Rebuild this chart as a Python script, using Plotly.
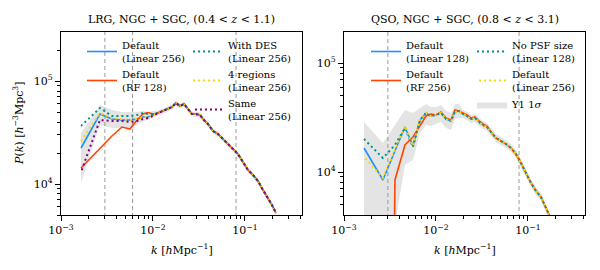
import plotly.graph_objects as go

# ---------------- data: LRG panel ----------------
k_lrg = [0.00165, 0.00265, 0.00358, 0.0046, 0.00562, 0.0067, 0.00779, 0.00882, 0.0100,
         0.01133, 0.01285, 0.01456, 0.01609, 0.01778, 0.01966, 0.02173, 0.02402, 0.02654,
         0.02934, 0.03243, 0.03583, 0.03961, 0.04489, 0.05087, 0.05765, 0.06533, 0.07405,
         0.08392, 0.09512, 0.1078, 0.1222, 0.1385, 0.157, 0.1778, 0.1966, 0.2173]

_lrg_tail = [48900, 51110, 53470, 55920, 61150, 57200, 59800, 53470, 47810, 47810, 46760,
             41810, 38240, 32700, 30580, 27350, 24450, 21870, 19550, 16350, 13680, 12230,
             10690, 8740, 7310, 6250, 5230]

lrg_lin256 = [22360, 47810, 42760, 41810, 41810, 42760, 44710, 44710, 46760] + _lrg_tail
lrg_rf128 = [14300, 22360, 29240, 35760, 34200, 41810, 47810, 49450, 47810] + _lrg_tail
lrg_des = [36570, 54680, 45720, 45720, 45720, 46760, 48900, 47810, 47810] + _lrg_tail
lrg_4reg = [26150, 48900, 43720, 42760, 41810, 42760, 44710, 44710, 46760] + _lrg_tail
lrg_same = [13080, 41810, 40890, 40890, 39990, 40890, 42760, 43720, 45720] + _lrg_tail

lrg_band_hi = [31270, 58480, 52270, 50000, 50000, 50000, 51110, 50000, 51110,
               51830, 54180, 56680, 59280, 64820, 60630, 63390, 56680, 50680, 50680, 49570,
               44320, 40530, 34660, 32410, 28990, 25920, 23180, 20720, 17330, 14500, 12960,
               11330, 9260, 7750, 6630, 5540]
lrg_band_lo = [10220, 37390, 34970, 34970, 34970, 37390, 40890, 41810, 43720,
               46130, 48220, 50440, 52750, 57690, 53960, 56420, 50440, 45100, 45100, 44110,
               39440, 36080, 30850, 28850, 25800, 23070, 20630, 18440, 15420, 12910, 11540,
               10080, 8250, 6900, 5900, 4930]
lrg_vlines = [0.003, 0.006, 0.08]

# ---------------- data: QSO panel ----------------
k_qso = k_lrg[:34]

_qso_tail = [23280, 20500, 19240, 18060, 16610, 14630, 12090, 9790, 7930, 6690, 5900,
             4675, 3705]

qso_lin128 = [16610, 8450, 15580, 25870, 17320, 29990, 34770, 32640, 33330, 34770, 30630,
              29370, 35520, 36280, 34050, 32640, 30630, 31290, 28750, 26990, 25870] + _qso_tail
qso_rf256 = [1e-6, 1e-6, 8450, 17690, 20950, 26420, 32640, 34050, 33330, 35520, 31290,
             29990, 37050, 36280, 34770, 33330, 31290, 31960, 29370, 27560, 26420] + _qso_tail
qso_nopsf = [20080, 13440, 17690, 25330, 16960, 29990, 34770, 32640, 33330, 34770, 30630,
             29370, 35520, 36280, 34050, 32640, 30630, 31290, 28750, 26990, 25870] + _qso_tail
qso_lin256 = [13730, 8810, 15910, 26420, 17320, 30630, 34770, 32640, 33330, 34770, 30630,
              29370, 35520, 36280, 34050, 32640, 30630, 31290, 28750, 26990, 25870] + _qso_tail

qso_band_hi = [28750, 18450, 26990, 37050, 34770, 38650, 42060, 39480, 39480, 41180, 36280,
               34770, 42060, 42060, 37050, 35510, 33330, 34040, 31280, 29370, 28150, 25330,
               22300, 20930, 19650, 18070, 15920, 13150, 10650, 8630, 7280, 6420, 5090, 4030]
qso_band_lo = [2000, 2000, 3265, 11590, 12890, 22800, 26990, 26420, 27560, 28750, 25330,
               24280, 30630, 31290, 31300, 30000, 28150, 28760, 26420, 24810, 23780, 21400,
               18840, 17680, 16600, 15270, 13450, 11110, 9000, 7290, 6150, 5420, 4300, 3405]
qso_vlines = [0.003, 0.08]

x_ticks = [1e-3, 1e-2, 1e-1]
x_ticktext = ["10<sup>−3</sup>", "10<sup>−2</sup>", "10<sup>−1</sup>"]
y_ticks = [1e4, 1e5]
y_ticktext = ["10<sup>4</sup>", "10<sup>5</sup>"]
x_minor = [m * d for d in (1e-3, 1e-2, 1e-1) for m in range(2, 10)]
y_minor = [m * d for d in (1e3, 1e4, 1e5) for m in range(2, 10)]

# ---------------- styles ----------------
BLUE = "#1E90FF"
RED = "#FF4500"
TEAL = "#009090"
YELLOW = "#FFD700"
PURPLE = "#800080"
BAND = "rgba(190,190,190,0.42)"
FONT = "DejaVu Serif"

fig = go.Figure()


def band(k, lo, hi, xa, ya, show, leg):
    fig.add_trace(go.Scatter(x=k + k[::-1], y=hi + lo[::-1], fill="toself", fillcolor=BAND,
                             line=dict(width=0, color=BAND), mode="lines", hoverinfo="skip",
                             xaxis=xa, yaxis=ya, showlegend=show, legend=leg,
                             name="Y1 1<i>σ</i>", legendrank=1000))


def vlines(vals, xa, ya):
    for v in vals:
        fig.add_trace(go.Scatter(x=[v, v], y=[1e3, 1e6], mode="lines",
                                 line=dict(color="#9a9a9a", width=1, dash="4px,3px"),
                                 xaxis=xa, yaxis=ya, showlegend=False, hoverinfo="skip"))


def line(k, y, color, name, xa, ya, leg, dash="solid", width=1.6, rank=1):
    fig.add_trace(go.Scatter(x=k, y=y, mode="lines", name=name,
                             line=dict(color=color, width=width, dash=dash),
                             xaxis=xa, yaxis=ya, legend=leg, legendrank=rank))


# left panel
band(k_lrg, lrg_band_lo, lrg_band_hi, "x", "y", False, "legend")
vlines(lrg_vlines, "x", "y")
line(k_lrg, lrg_lin256, BLUE, "Default<br>(Linear 256)", "x", "y", "legend", rank=1)
line(k_lrg, lrg_rf128, RED, "Default<br>(RF 128)", "x", "y", "legend", rank=2)
line(k_lrg, lrg_des, TEAL, "With DES<br>(Linear 256)", "x", "y", "legend2", dash="2px,3px", width=2, rank=1)
line(k_lrg, lrg_4reg, YELLOW, "4 regions<br>(Linear 256)", "x", "y", "legend2", dash="2px,3px", width=2, rank=2)
line(k_lrg, lrg_same, PURPLE, "Same<br>(Linear 256)", "x", "y", "legend2", dash="0px,2px,2px,1px", width=2, rank=3)

# right panel
band(k_qso, qso_band_lo, qso_band_hi, "x2", "y2", True, "legend4")
vlines(qso_vlines, "x2", "y2")
line(k_qso, qso_lin128, BLUE, "Default<br>(Linear 128)", "x2", "y2", "legend3", rank=1)
line(k_qso, qso_rf256, RED, "Default<br>(RF 256)", "x2", "y2", "legend3", rank=2)
line(k_qso, qso_nopsf, TEAL, "No PSF size<br>(Linear 128)", "x2", "y2", "legend4", dash="2px,3px", width=2, rank=1)
line(k_qso, qso_lin256, YELLOW, "Default<br>(Linear 256)", "x2", "y2", "legend4", dash="0px,2px,2px,1px", width=2, rank=2)

# page has an 8px body margin; figure is sized so it fits the 600x270 window
OFF = 8
W, H = 600 - OFF, 270 - OFF
PL, PR, PT, PB = 61, 585, 32, 215          # plot-area edges in window pixels
ML, MT = PL - OFF, PT - OFF
PW, PH = PR - PL, PB - PT
MR = W - ML - PW
MB = H - MT - PH


def px_x(p):
    return (p - PL) / PW


def px_y(p):
    return 1 - (p - PT) / PH


axis_common = dict(type="log", showline=True, mirror=True, linecolor="black", linewidth=1.2,
                   ticks="outside", ticklen=5, tickwidth=1.1, tickcolor="black",
                   showgrid=False, zeroline=False, automargin=False,
                   tickfont=dict(family=FONT, size=11, color="black"))

leg_common = dict(bgcolor="rgba(0,0,0,0)", font=dict(family=FONT, size=10, color="black"),
                  xanchor="left", yanchor="top", itemwidth=30, tracegroupgap=0,
                  orientation="v", valign="middle")

fig.update_layout(
    width=W, height=H, margin=dict(l=ML, r=MR, t=MT, b=MB, autoexpand=False),
    paper_bgcolor="white", plot_bgcolor="white",
    xaxis=dict(domain=[0, 241 / PW], range=[-3, -0.38], tickvals=x_ticks, ticktext=x_ticktext,
               minor=dict(tickvals=x_minor, ticks="outside", ticklen=3, tickcolor="black"),
               anchor="y", **axis_common),
    yaxis=dict(domain=[0, 1], range=[3.699, 5.476], tickvals=y_ticks, ticktext=y_ticktext,
               minor=dict(tickvals=y_minor, ticks="outside", ticklen=3, tickcolor="black"),
               anchor="x", **axis_common),
    xaxis2=dict(domain=[283 / PW, 1], range=[-3, -0.38], tickvals=x_ticks, ticktext=x_ticktext,
                minor=dict(tickvals=x_minor, ticks="outside", ticklen=3, tickcolor="black"),
                anchor="y2", **axis_common),
    yaxis2=dict(domain=[0, 1], range=[3.6055, 5.2844], tickvals=y_ticks, ticktext=y_ticktext,
                minor=dict(tickvals=y_minor, ticks="outside", ticklen=3, tickcolor="black"),
                anchor="x2", **axis_common),
    legend=dict(x=px_x(82), y=px_y(32), **leg_common),
    legend2=dict(x=px_x(188), y=px_y(32), **leg_common),
    legend3=dict(x=px_x(366), y=px_y(32), **leg_common),
    legend4=dict(x=px_x(472), y=px_y(32), **leg_common),
)

ann_font = dict(family=FONT, size=11, color="black")
fig.add_annotation(text="LRG, NGC + SGC, (0.4 &lt; <i>z</i> &lt; 1.1)", xref="paper", yref="paper",
                   x=px_x(181.5), y=px_y(20), showarrow=False, font=ann_font,
                   xanchor="center", yanchor="middle")
fig.add_annotation(text="QSO, NGC + SGC, (0.8 &lt; <i>z</i> &lt; 3.1)", xref="paper", yref="paper",
                   x=px_x(464.5), y=px_y(20), showarrow=False, font=ann_font,
                   xanchor="center", yanchor="middle")
for cx in (181.5, 464.5):
    fig.add_annotation(text="<i>k</i> [<i>h</i>Mpc<sup>−1</sup>]", xref="paper", yref="paper",
                       x=px_x(cx), y=px_y(249), showarrow=False, font=ann_font,
                       xanchor="center", yanchor="middle")
fig.add_annotation(text="<i>P</i>(<i>k</i>) [<i>h</i><sup>−3</sup>Mpc<sup>3</sup>]",
                   xref="paper", yref="paper", x=px_x(18), y=px_y(123), showarrow=False,
                   font=ann_font, textangle=-90, xanchor="center", yanchor="middle")

fig.write_html("out.html")
